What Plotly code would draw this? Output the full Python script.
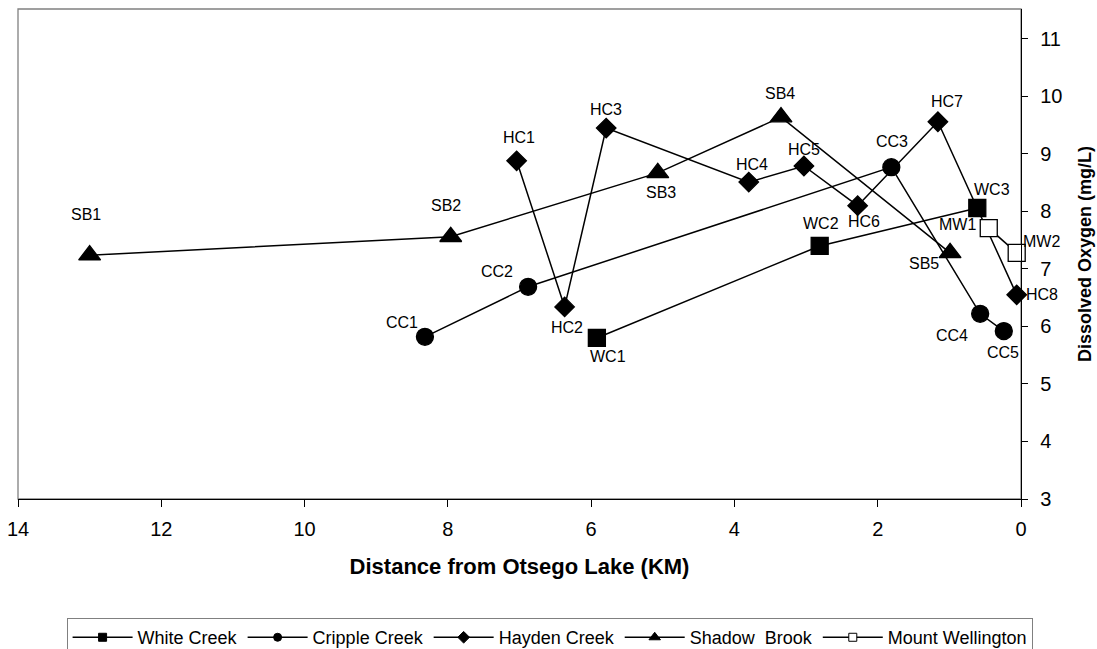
import plotly.graph_objects as go

# ---------------- data ----------------
wc_names = ["WC1", "WC2", "WC3"]
wc_km = [5.92, 2.81, 0.61]
wc_do = [5.80, 7.40, 8.06]

cc_names = ["CC1", "CC2", "CC3", "CC4", "CC5"]
cc_km = [8.32, 6.88, 1.81, 0.57, 0.24]
cc_do = [5.82, 6.69, 8.77, 6.22, 5.92]

hc_names = ["HC1", "HC2", "HC3", "HC4", "HC5", "HC6", "HC7", "HC8"]
hc_km = [7.04, 6.37, 5.79, 3.80, 3.03, 2.28, 1.16, 0.06]
hc_do = [8.88, 6.34, 9.45, 8.51, 8.79, 8.10, 9.56, 6.55]

sb_names = ["SB1", "SB2", "SB3", "SB4", "SB5"]
sb_km = [13.0, 7.96, 5.07, 3.35, 0.99]
sb_do = [7.24, 7.56, 8.67, 9.64, 7.28]

mw_names = ["MW1", "MW2"]
mw_km = [0.45, 0.06]
mw_do = [7.71, 7.28]

series_names = ["White Creek", "Cripple Creek", "Hayden Creek", "Shadow  Brook", "Mount Wellington"]
x_ticks = [14, 12, 10, 8, 6, 4, 2, 0]
y_ticks = [3, 4, 5, 6, 7, 8, 9, 10, 11]

# ---------------- styles ----------------
FONT = "Liberation Sans, Arial, sans-serif"
label_offsets = {
    "SB1": (-4, 41), "SB2": (-5, 31), "SB3": (3, -20), "SB4": (-1, 24), "SB5": (-26, -11),
    "HC1": (2, 23), "HC2": (2, -21), "HC3": (0, 19), "HC4": (3, 18), "HC5": (0, 17),
    "HC6": (6, -16), "HC7": (9, 20), "HC8": (25, 0),
    "CC1": (-23, 14), "CC2": (-31, 15), "CC3": (1, 26), "CC4": (-28, -22), "CC5": (-1, -21),
    "WC1": (11, -19), "WC2": (1, 22), "WC3": (15, 18),
    "MW1": (-31, 4), "MW2": (25, 11),
}

series = [
    (series_names[0], wc_names, wc_km, wc_do, "square", 17, "black", 8),
    (series_names[1], cc_names, cc_km, cc_do, "circle", 17, "black", 8),
    (series_names[2], hc_names, hc_km, hc_do, "diamond", 15, "black", 9),
    (series_names[3], sb_names, sb_km, sb_do, "triangle-up", 19, "black", 10),
    (series_names[4], mw_names, mw_km, mw_do, "square", 17, "white", 8),
]

fig = go.Figure()
annotations = []
for name, labels, xs, ys, sym, size, fill, lsize in series:
    fig.add_trace(go.Scatter(
        x=xs, y=ys, mode="lines+markers", showlegend=False, name=name,
        line=dict(color="black", width=1.5),
        marker=dict(symbol=sym, size=size, color=fill, line=dict(color="black", width=1.3)),
        cliponaxis=False,
    ))
    for lab, xv, yv in zip(labels, xs, ys):
        dx, dy = label_offsets[lab]
        annotations.append(dict(
            x=xv, y=yv, xref="x", yref="y", text=lab, showarrow=False,
            xshift=dx, yshift=dy, font=dict(family=FONT, size=16, color="black"),
        ))

# legend entries (small symbols like the original legend)
for name, labels, xs, ys, sym, size, fill, lsize in series:
    fig.add_trace(go.Scatter(
        x=[None], y=[None], mode="lines+markers", name=name, showlegend=True,
        line=dict(color="black", width=1.5),
        marker=dict(symbol=sym, size=lsize, color=fill, line=dict(color="black", width=1)),
    ))

fig.update_layout(
    width=1097, height=649,
    margin=dict(l=18, r=76, t=9, b=150, autoexpand=False),
    plot_bgcolor="white", paper_bgcolor="white",
    font=dict(family=FONT, color="black"),
    annotations=annotations,
    legend=dict(
        orientation="h", x=0.53, xanchor="center", y=-0.243, yanchor="top",
        bordercolor="#808080", borderwidth=1, bgcolor="white",
        font=dict(family=FONT, size=18, color="black"),
        itemwidth=60, tracegroupgap=0,
    ),
    shapes=[dict(type="rect", xref="paper", yref="paper", x0=0, x1=1, y0=0, y1=1,
                 line=dict(color="#808080", width=1.3), layer="below")],
    xaxis=dict(
        range=[14, 0], tickvals=x_ticks, ticktext=[str(v) for v in x_ticks], automargin=False,
        ticklabeloverflow="allow",
        showgrid=False, zeroline=False, showline=True, linecolor="black", linewidth=1.3,
        ticks="outside", ticklen=7, tickcolor="black", tickwidth=1,
        tickfont=dict(family=FONT, size=20), ticklabelstandoff=5,
        title=dict(text="<b>Distance from Otsego Lake (KM)</b>", standoff=19,
                   font=dict(family=FONT, size=22)),
    ),
    yaxis=dict(
        range=[3, 11.52], side="right", tickvals=y_ticks, ticktext=[str(v) for v in y_ticks],
        automargin=False, ticklabeloverflow="allow",
        showgrid=False, zeroline=False, showline=True, linecolor="black", linewidth=1.3,
        ticks="outside", ticklen=6, tickcolor="black", tickwidth=1,
        tickfont=dict(family=FONT, size=20), ticklabelstandoff=8,
        title=dict(text="<b>Dissolved Oxygen (mg/L)</b>", standoff=16,
                   font=dict(family=FONT, size=18)),
    ),
)

# remove the default 8px page margin so the figure fills the window exactly
fig.write_html("out.html", config={"displayModeBar": False},
               post_script="document.body.style.margin='0';document.body.style.overflow='hidden';")
